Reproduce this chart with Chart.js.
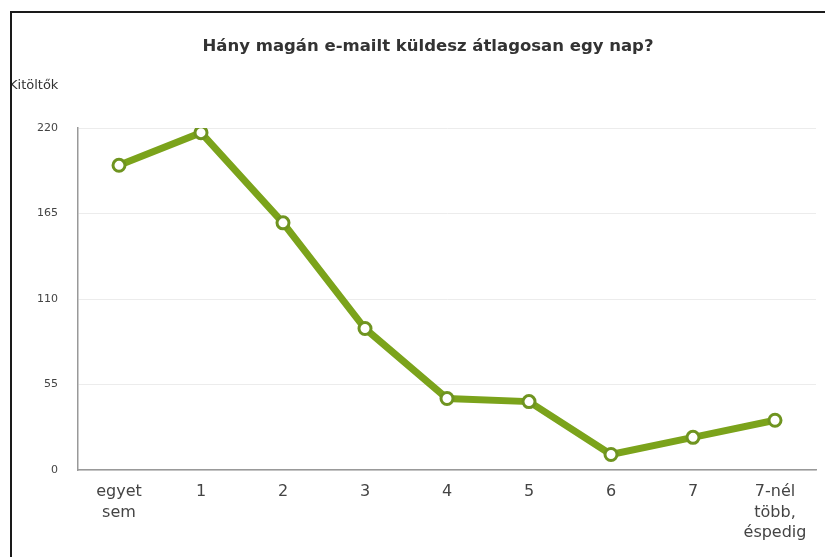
<!DOCTYPE html>
<html>
<head>
<meta charset="utf-8">
<script src="https://cdn.jsdelivr.net/npm/chart.js@4"></script>
<style>
  html, body { margin: 0; padding: 0; background: #fff; }
  #wrap { position: absolute; left: 0; top: 0; width: 825px; height: 557px; }
</style>
</head>
<body>
<div id="wrap"><canvas id="c" width="825" height="557"></canvas></div>
<script>
const titleText = 'Hány magán e-mailt küldesz átlagosan egy nap?';
const yAxisLabel = 'Kitöltők';
const categories = [['egyet', 'sem'], '1', '2', '3', '4', '5', '6', '7', ['7-nél', 'több,', 'éspedig']];
const respondents = [196, 217, 159, 91, 46, 44, 10, 21, 32];
const yTicks = [0, 55, 110, 165, 220];

const lineGreen = '#7ba31b';
const pointGreen = '#6f9420';

const decor = {
  id: 'decor',
  afterDraw(chart) {
    const ctx = chart.ctx;
    const y = chart.scales.y;
    ctx.save();
    ctx.fillStyle = '#333';
    ctx.textBaseline = 'middle';
    ctx.textAlign = 'center';
    ctx.font = 'bold 16.5px "DejaVu Sans", sans-serif';
    ctx.fillText(titleText, 428, 47);
    ctx.font = '13px "DejaVu Sans", sans-serif';
    ctx.textAlign = 'left';
    ctx.fillText(yAxisLabel, 9, y.getPixelForValue(220) - 42);
    // frame of the picture
    ctx.strokeStyle = '#1a1a1a';
    ctx.lineWidth = 2;
    ctx.beginPath();
    ctx.moveTo(11, 557);
    ctx.lineTo(11, 12);
    ctx.lineTo(825, 12);
    ctx.stroke();
    ctx.restore();
  }
};

new Chart(document.getElementById('c'), {
  type: 'line',
  data: {
    labels: categories,
    datasets: [{
      data: respondents,
      borderColor: lineGreen,
      borderWidth: 7,
      pointRadius: 6,
      pointBorderWidth: 3,
      pointBackgroundColor: '#ffffff',
      pointBorderColor: pointGreen,
      tension: 0,
      fill: false
    }]
  },
  options: {
    responsive: false,
    animation: false,
    devicePixelRatio: 1,
    layout: { padding: { left: 0, right: 4, top: 128, bottom: 0 } },
    plugins: {
      legend: { display: false },
      tooltip: { enabled: false },
      title: { display: false }
    },
    scales: {
      x: {
        type: 'category',
        offset: true,
        grid: { display: false, drawTicks: false },
        border: { display: true, color: '#999', width: 1.5 },
        ticks: {
          color: '#444',
          padding: 12,
          maxRotation: 0,
          autoSkip: false,
          font: { family: '"DejaVu Sans", sans-serif', size: 16, lineHeight: 1.28 }
        },
        afterFit(scale) { scale.height = 87; }
      },
      y: {
        min: 0,
        max: 220,
        afterBuildTicks(scale) { scale.ticks = yTicks.map(v => ({ value: v })); },
        grid: { color: '#ececec', lineWidth: 1, drawTicks: false },
        border: { display: true, color: '#999', width: 1.5 },
        ticks: {
          color: '#444',
          padding: 20,
          font: { family: '"DejaVu Sans", sans-serif', size: 11 }
        },
        afterFit(scale) { scale.width = 78; }
      }
    }
  },
  plugins: [decor]
});
</script>
</body>
</html>
